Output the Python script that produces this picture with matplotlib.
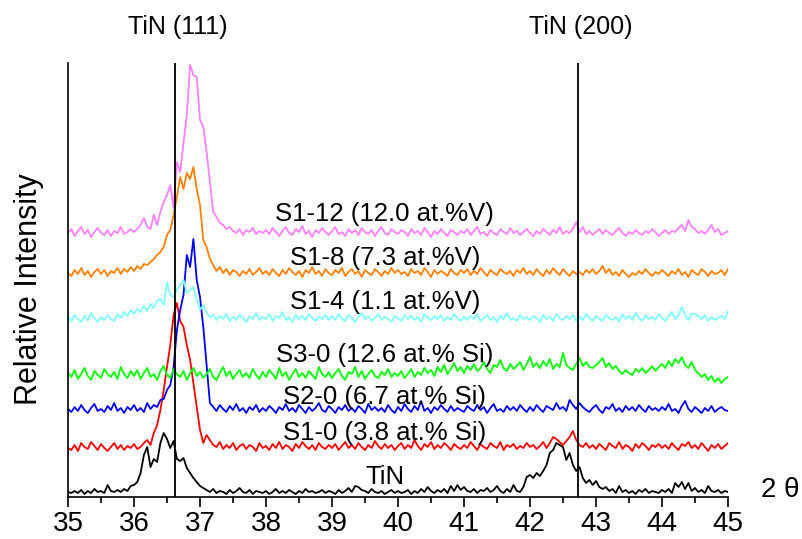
import numpy as np
import matplotlib
matplotlib.use("Agg")
import matplotlib.pyplot as plt

plt.rcParams['font.family'] = ['Liberation Sans', 'DejaVu Sans']

# 2theta grid, 0.05 deg steps
two_theta = np.arange(201) * 0.05 + 35.0

# stacked intensities (arb. units, offsets already included)
tin = [
    3, 2, 4, 2, 5, 1, 4, 2, 6, 3, 4, 2, 10, 4, 3, 5, 3, 6, 4, 9,
    10, 13, 22, 40, 48, 28, 36, 33, 52, 62, 56, 47, 54, 36, 34, 37, 27, 22, 17, 13,
    9, 7, 5, 3, 6, 2, 4, 3, 1, 5, 2, 4, 7, 3, 2, 5, 1, 4, 3, 2,
    4, 1, 3, 6, 2, 4, 2, 5, 3, 1, 4, 2, 6, 3, 4, 2, 3, 5, 2, 4,
    3, 1, 5, 2, 4, 7, 3, 9, 8, 5, 4, 2, 6, 3, 2, 4, 1, 3, 5, 2,
    4, 2, 3, 5, 1, 4, 2, 6, 3, 8, 4, 2, 5, 3, 6, 2, 9, 4, 10, 5,
    8, 4, 3, 6, 2, 5, 4, 7, 3, 5, 9, 4, 2, 6, 3, 10, 4, 3, 8, 18,
    20, 17, 22, 19, 24, 30, 42, 45, 52, 50, 48, 35, 42, 30, 24, 28, 17, 12, 15, 10,
    14, 8, 6, 8, 4, 6, 2, 9, 3, 5, 2, 4, 1, 5, 3, 6, 2, 4, 3, 2,
    5, 3, 6, 2, 12, 8, 13, 6, 12, 4, 7, 3, 5, 2, 9, 4, 3, 5, 2, 4,
    3,
]
s1_0 = [
    47, 45, 50, 44, 52, 48, 46, 53, 49, 45, 51, 47, 44, 48, 52, 46, 50, 45, 49, 47,
    51, 46, 48, 52, 55, 50, 62, 70, 85, 105, 128, 150, 180, 192, 174, 168, 150, 135, 112, 88,
    65, 52, 60, 55, 50, 48, 53, 46, 50, 47, 52, 45, 49, 51, 46, 50, 48, 44, 52, 47,
    49, 45, 51, 47, 53, 46, 50, 48, 44, 51, 47, 53, 49, 46, 50, 45, 52, 48, 46, 50,
    47, 51, 45, 49, 53, 47, 50, 46, 52, 48, 45, 50, 47, 54, 49, 46, 51, 47, 50, 45,
    49, 52, 46, 50, 47, 55, 49, 45, 51, 48, 53, 46, 50, 47, 52, 49, 45, 51, 48, 46,
    50, 47, 53, 49, 45, 51, 48, 46, 52, 49, 47, 53, 45, 50, 48, 51, 46, 49, 47, 52,
    48, 50, 46, 49, 53, 47, 52, 58, 56, 53, 50, 54, 58, 64, 55, 50, 48, 52, 47, 50,
    46, 51, 48, 45, 52, 49, 47, 53, 46, 50, 48, 44, 51, 47, 52, 49, 45, 50, 48, 51,
    47, 50, 46, 52, 48, 45, 51, 49, 53, 47, 50, 46, 52, 48, 44, 50, 47, 51, 46, 49,
    52,
]
s2_0 = [
    86, 83, 88, 84, 90, 85, 82, 87, 91, 84, 86, 83, 89, 85, 92, 84, 87, 82, 88, 85,
    90, 84, 87, 83, 92, 86, 90, 88, 95, 96, 105, 110, 128, 165, 185, 200, 240, 228, 256, 215,
    198, 168, 130, 92, 88, 84, 90, 86, 83, 89, 85, 91, 84, 87, 82, 88, 85, 90, 83, 87,
    84, 89, 86, 82, 88, 85, 91, 84, 87, 83, 90, 86, 82, 88, 84, 87, 92, 85, 83, 89,
    86, 82, 88, 85, 90, 84, 87, 83, 89, 86, 82, 91, 85, 88, 84, 87, 83, 90, 85, 82,
    88, 84, 91, 86, 83, 89, 85, 94, 84, 87, 82, 88, 85, 90, 86, 83, 89, 84, 87, 85,
    83, 89, 86, 84, 90, 85, 88, 82, 87, 91, 84, 86, 83, 89, 85, 88, 84, 90, 86, 83,
    88, 84, 90, 86, 83, 89, 87, 85, 92, 86, 88, 84, 95, 90, 86, 92, 88, 85, 83, 87,
    90, 85, 82, 88, 86, 91, 84, 87, 83, 89, 85, 88, 84, 90, 86, 83, 89, 85, 87, 84,
    88, 85, 91, 84, 86, 82, 89, 94, 86, 83, 88, 85, 82, 87, 84, 89, 83, 86, 88, 85,
    84,
]
s3_0 = [
    122, 118, 125, 116, 121, 127, 119, 115, 124, 120, 117, 126, 121, 118, 123, 116, 128, 121, 117, 124,
    119, 125, 116, 122, 127, 118, 121, 115, 124, 129, 120, 117, 126, 121, 118, 124, 115, 122, 127, 119,
    123, 117, 121, 126, 118, 115, 122, 128, 119, 124, 116, 121, 125, 118, 122, 117, 126, 120, 116, 123,
    118, 125, 121, 116, 127, 119, 123, 115, 121, 126, 118, 122, 117, 124, 120, 116, 128, 121, 118, 123,
    117, 122, 126, 119, 115, 123, 121, 128, 118, 124, 116, 121, 125, 119, 117, 123, 120, 126, 118, 122,
    119, 124, 117, 121, 126, 118, 123, 120, 127, 122, 125, 119, 128, 123, 130, 121, 126, 132, 124, 128,
    122, 129, 125, 131, 124, 127, 133, 126, 122, 130, 128, 135, 127, 124, 131, 126, 129, 133, 125, 131,
    138, 128, 132, 127, 134, 129, 136, 126, 131, 128, 142, 130, 127, 125, 131, 137, 129, 133, 128, 127,
    130, 133, 137, 128, 132, 126, 129, 124, 121, 125, 122, 120, 126, 123, 127, 122, 125, 129, 124, 128,
    131, 127, 134, 129, 136, 132, 138, 130, 127, 133, 125, 122, 118, 121, 115, 119, 113, 117, 112, 116,
    118,
]
s1_4 = [
    178, 174, 180, 176, 173, 179, 175, 182, 177, 173, 178, 175, 180, 176, 174, 181, 177, 183, 179, 185,
    181, 186, 183, 189, 184, 191, 187, 194, 196, 190, 213, 200, 198, 205, 210, 215, 202, 205, 208, 196,
    185, 190, 182, 178, 180, 175, 179, 176, 181, 174, 178, 175, 180, 177, 173, 179, 176, 182, 175, 178,
    176, 181, 174, 179, 177, 183, 175, 178, 173, 180, 176, 179, 175, 181, 177, 174, 178, 176, 180, 175,
    179, 175, 181, 176, 174, 180, 177, 173, 178, 182, 176, 179, 174, 177, 181, 175, 178, 176, 173, 179,
    177, 174, 180, 176, 179, 175, 178, 173, 181, 177, 175, 179, 176, 180, 174, 178, 175, 181, 177, 174,
    178, 175, 179, 176, 181, 174, 177, 180, 175, 178, 173, 179, 176, 182, 175, 177, 174, 180, 176, 178,
    175, 179, 177, 173, 180, 176, 178, 174, 181, 177, 175, 179, 176, 180, 174, 178, 175, 181, 177, 174,
    179, 176, 174, 180, 177, 175, 178, 173, 181, 176, 179, 175, 182, 177, 174, 180, 176, 178, 175, 181,
    177, 174, 179, 183, 176, 180, 188, 180, 175, 181, 181, 179, 176, 180, 174, 178, 175, 177, 179, 176,
    184,
]
s1_8 = [
    222, 219, 225, 221, 227, 220, 224, 218, 223, 226, 221, 225, 219, 224, 222, 227, 221, 226, 223, 228,
    224, 229, 226, 231, 230, 233, 236, 240, 243, 248, 260, 265, 280, 298, 318, 306, 322, 316, 328, 306,
    290, 255, 248, 236, 230, 224, 228, 222, 226, 220, 225, 223, 219, 224, 221, 226, 220, 223, 227, 221,
    224, 220, 226, 222, 219, 225, 221, 227, 223, 220, 224, 218, 225, 222, 228, 221, 224, 219, 226, 222,
    220, 225, 222, 227, 219, 223, 226, 221, 224, 218, 225, 222, 220, 226, 223, 219, 224, 221, 227, 222,
    225, 221, 223, 219, 226, 222, 224, 220, 227, 223, 218, 225, 221, 224, 222, 219, 226, 222, 220, 225,
    222, 226, 220, 224, 221, 227, 223, 219, 225, 222, 220, 226, 223, 221, 224, 219, 225, 222, 227, 221,
    224, 220, 226, 222, 219, 225, 221, 227, 223, 220, 226, 222, 219, 224, 221, 223, 220, 225, 222, 226,
    221, 224, 229, 222, 226, 220, 223, 219, 225, 221, 218, 222, 220, 224, 221, 226, 222, 219, 223, 221,
    225, 222, 219, 224, 221, 226, 220, 223, 218, 225, 222, 220, 226, 223, 219, 224, 221, 222, 225, 220,
    226,
]
s1_12 = [
    262, 266, 259, 264, 268, 261, 265, 258, 263, 267, 262, 260, 265, 259, 264, 262, 268, 261, 263, 266,
    263, 266, 270, 277, 268, 266, 280, 270, 283, 293, 300, 310, 287, 333, 323, 352, 380, 430, 420, 418,
    375, 368, 343, 313, 283, 278, 272, 270, 266, 268, 264, 262, 266, 260, 265, 263, 267, 261, 264, 262,
    265, 261, 267, 263, 259, 264, 268, 262, 260, 266, 263, 269, 261, 264, 258, 265, 262, 267, 263, 260,
    264, 268, 261, 263, 259, 266, 262, 265, 260, 267, 263, 261, 265, 259, 264, 268, 262, 260, 266, 263,
    261, 265, 263, 259, 266, 262, 264, 260, 267, 263, 258, 264, 261, 266, 262, 259, 265, 263, 260, 264,
    262, 266, 260, 264, 268, 261, 263, 259, 265, 262, 260, 266, 263, 261, 267, 262, 264, 260, 263, 266,
    262, 259, 264, 261, 266, 263, 260, 265, 262, 268, 261, 264, 262, 266, 273, 263, 268, 261, 264, 260,
    263, 266, 261, 265, 262, 260, 264, 267, 262, 259, 263, 261, 265, 262, 260, 264, 262, 266, 263, 259,
    262, 265, 261, 264, 263, 267, 270, 264, 275, 268, 266, 262, 264, 261, 265, 270, 263, 266, 260, 262,
    264,
]

series = [tin, s1_0, s2_0, s3_0, s1_4, s1_8, s1_12]
colors = ['black', '#ff0000', '#0000ff', '#00ff00', '#80ffff', '#ff8000', '#ff80ff']
labels = ['TiN', 'S1-0 (3.8 at.% Si)', 'S2-0 (6.7 at.% Si)', 'S3-0 (12.6 at.% Si)',
          'S1-4 (1.1 at.%V)', 'S1-8 (7.3 at.%V)', 'S1-12 (12.0 at.%V)']
label_y = [18, 62, 98, 140, 193, 237, 281]

# reference peak positions
peak_pos = [36.62, 42.72]
peak_names = ['TiN (111)', 'TiN (200)']

fig = plt.figure(figsize=(8.03, 5.39), dpi=100)
ax = fig.add_axes([68 / 803, 42 / 539, 660 / 803, 434 / 539])

for y, c in zip(series, colors):
    ax.plot(two_theta, y, color=c, lw=1.3)

for txt, ly in zip(labels, label_y):
    ax.text(39.8, ly, txt, ha='center', va='center', fontsize=18.5)

for p, name in zip(peak_pos, peak_names):
    ax.axvline(p, color='black', lw=1.3)
    ax.text(p + 0.05, 468, name, ha='center', va='center', fontsize=18, clip_on=False)

ax.set_xlim(35, 45)
ax.set_ylim(-2, 432)
ax.set_xticks(np.arange(35, 46, 1))
ax.set_xticks(np.arange(35.5, 45, 1), minor=True)
ax.set_yticks([])
ax.tick_params(axis='x', which='major', direction='out', length=7, width=1.2, labelsize=20, pad=3)
ax.tick_params(axis='x', which='minor', direction='out', length=4, width=1.2)
for s in ['top', 'right']:
    ax.spines[s].set_visible(False)
for s in ['left', 'bottom']:
    ax.spines[s].set_linewidth(1.2)

ax.set_ylabel('Relative Intensity', fontsize=22)
ax.yaxis.set_label_coords(-0.036, 0.48)
fig.text(780 / 803, 1 - 490 / 539, '2 \u03b8', ha='center', va='center', fontsize=20)

fig.savefig('out.png', dpi=100)
